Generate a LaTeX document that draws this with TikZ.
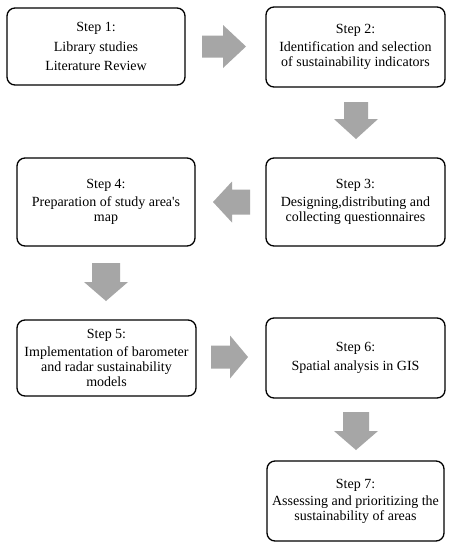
\documentclass[tikz,border=0pt]{standalone}
\usepackage{fontspec}
\setmainfont{Liberation Serif}
\definecolor{arrowgray}{HTML}{A6A6A6}
\tikzset{
  stepbox/.style={draw=black, line width=1.3pt, rounded corners=8pt, fill=white,
    align=center, inner sep=0pt, font=\fontsize{14}{15}\selectfont},
  blockarr/.style={fill=arrowgray, draw=none},
}
\begin{document}
\begin{tikzpicture}[x=1pt,y=-1pt]
\useasboundingbox[fill=white] (0,0) rectangle (452,550);
% boxes: centers and sizes
\node[stepbox, minimum width=178pt, minimum height=77pt, font=\fontsize{14}{19.5}\selectfont] (s1) at (96,46.5)
  {Step 1:\\Library studies\\Literature Review};
\node[stepbox, minimum width=179pt, minimum height=80pt] (s2) at (355.5,47)
  {Step 2:\\[3pt]Identification and selection\\of sustainability indicators};
\node[stepbox, minimum width=179pt, minimum height=88pt] (s3) at (355.5,202)
  {Step 3:\\[3pt]Designing,distributing and\\collecting questionnaires};
\node[stepbox, minimum width=178pt, minimum height=88pt] (s4) at (106,202)
  {Step 4:\\[3pt]Preparation of study area\textquotesingle s\\map};
\node[stepbox, minimum width=179pt, minimum height=76pt] (s5) at (106.5,358)
  {Step 5:\\[3pt]Implementation of barometer\\and radar sustainability\\models};
\node[stepbox, minimum width=179pt, minimum height=80pt] (s6) at (355.5,358)
  {Step 6:\\[4pt]Spatial analysis in GIS};
\node[stepbox, minimum width=177pt, minimum height=80pt] (s7) at (355.5,501)
  {Step 7:\\[2pt]Assessing and prioritizing the\\sustainability of areas};
% block arrows
% right arrow s1 -> s2
\fill[blockarr] (202,35.5) -- (223,35.5) -- (223,25) -- (246,46.5) -- (223,68) -- (223,57.5) -- (202,57.5) -- cycle;
% down arrow s2 -> s3
\fill[blockarr] (344,102) -- (368,102) -- (368,119) -- (378,119) -- (356,139) -- (334,119) -- (344,119) -- cycle;
% left arrow s3 -> s4
\fill[blockarr] (250,189.5) -- (232,189.5) -- (232,181.5) -- (213,202) -- (232,222.5) -- (232,214.5) -- (250,214.5) -- cycle;
% down arrow s4 -> s5
\fill[blockarr] (92,263) -- (120,263) -- (120,282) -- (128,282) -- (106,301) -- (84,282) -- (92,282) -- cycle;
% right arrow s5 -> s6
\fill[blockarr] (211,345.5) -- (230,345.5) -- (230,335.5) -- (248,357) -- (230,378.5) -- (230,368.5) -- (211,368.5) -- cycle;
% down arrow s6 -> s7
\fill[blockarr] (343,412) -- (369,412) -- (369,431) -- (378,431) -- (356,450) -- (334,431) -- (343,431) -- cycle;
\end{tikzpicture}
\end{document}
